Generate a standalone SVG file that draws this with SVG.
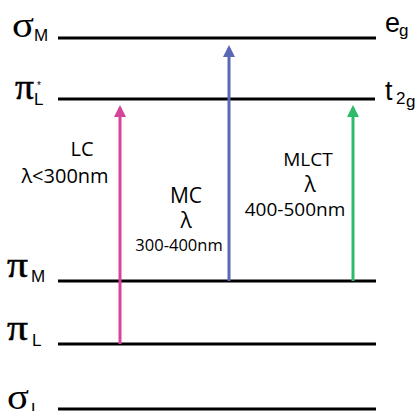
<svg xmlns="http://www.w3.org/2000/svg" width="417" height="411" viewBox="0 0 417 411">
<style>
.lvl{stroke:#000;stroke-width:3}
.t{font-family:"Liberation Sans",Arial,sans-serif;fill:#000}
.g{font-family:"Liberation Serif","Times New Roman",serif;font-size:36px;fill:#000}
.p{stroke:#000;stroke-width:0.5}
.sub{font-family:"Liberation Sans",Arial,sans-serif;font-size:17px;fill:#000}
.lab{font-family:"Open Sans","Liberation Sans",sans-serif;fill:#000;text-anchor:middle}
</style>
<defs>
<marker id="hp" markerWidth="4" markerHeight="4" refX="3" refY="2" orient="auto" markerUnits="strokeWidth"><path d="M0,0 L4,2 L0,4 Z" fill="#d6439b"/></marker>
<marker id="hb" markerWidth="4" markerHeight="4" refX="3" refY="2" orient="auto" markerUnits="strokeWidth"><path d="M0,0 L4,2 L0,4 Z" fill="#5a69b3"/></marker>
<marker id="hg" markerWidth="4" markerHeight="4" refX="3" refY="2" orient="auto" markerUnits="strokeWidth"><path d="M0,0 L4,2 L0,4 Z" fill="#2dba6a"/></marker>
</defs>
<g id="level-sigmaM"><line class="lvl" x1="58" y1="38" x2="376" y2="38"/><text class="g" x="12" y="37" textLength="22" lengthAdjust="spacingAndGlyphs">σ</text><text class="sub" x="34" y="41">M</text><text class="t" x="385" y="32" font-size="27">e</text><text class="t" x="399" y="36" font-size="17">g</text></g>
<g id="level-piLstar"><line class="lvl" x1="58" y1="99" x2="375" y2="99"/><text class="g p" x="15" y="99" textLength="19" lengthAdjust="spacingAndGlyphs">π</text><text class="sub" x="34" y="105">L</text><text class="t" x="37" y="89" font-size="10">*</text><text class="t" x="385" y="100" font-size="27">t</text><text class="t" x="396" y="104" font-size="17">2</text><text class="t" x="406" y="107" font-size="17">g</text></g>
<g id="level-piM"><line class="lvl" x1="58" y1="281" x2="376" y2="281"/><text class="g p" x="7" y="277" textLength="21" lengthAdjust="spacingAndGlyphs">π</text><text class="sub" x="31" y="282">M</text></g>
<g id="level-piL"><line class="lvl" x1="58" y1="344" x2="376" y2="344"/><text class="g p" x="7" y="340" textLength="21" lengthAdjust="spacingAndGlyphs">π</text><text class="sub" x="32" y="346">L</text></g>
<g id="level-sigmaL"><line class="lvl" x1="58" y1="409" x2="376" y2="409"/><text class="g" x="7" y="409" textLength="22" lengthAdjust="spacingAndGlyphs">σ</text><text class="sub" x="31" y="415">L</text></g>
<g id="connectors">
<line x1="120" y1="344" x2="120" y2="108" stroke="#d6439b" stroke-width="3" marker-end="url(#hp)"/>
<line x1="229" y1="281" x2="229" y2="48" stroke="#5a69b3" stroke-width="3" marker-end="url(#hb)"/>
<line x1="353" y1="281" x2="353" y2="108" stroke="#2dba6a" stroke-width="3" marker-end="url(#hg)"/>
</g>
<g id="label-LC"><text class="lab" x="82" y="156" font-size="20">LC</text><text class="lab" x="65" y="183" font-size="20">λ&lt;300nm</text></g>
<g id="label-MC"><text class="lab" x="186" y="203" font-size="21">MC</text><text class="lab" x="186" y="228" font-size="21">λ</text><text class="lab" x="179" y="251" font-size="16.5">300-400nm</text></g>
<g id="label-MLCT"><text class="lab" x="308" y="166" font-size="19">MLCT</text><text class="lab" x="310" y="192" font-size="21">λ</text><text class="lab" x="295" y="216" font-size="19">400-500nm</text></g>
</svg>
